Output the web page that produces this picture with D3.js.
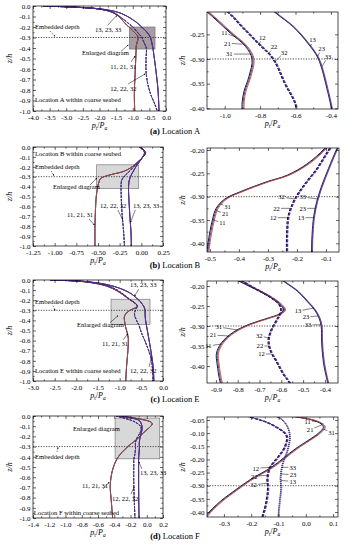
<!DOCTYPE html>
<html>
<head>
<meta charset="utf-8">
<script src="https://cdn.jsdelivr.net/npm/d3@7"></script>
<style>
body{margin:0;background:#fff}
svg{font-family:"Liberation Serif","Times New Roman",serif}
</style>
</head>
<body>
<svg id="chart" width="348" height="550"></svg>
<script>
// curves are [p_t/P_a, z/h]; group 1 = 11,21,31  group 2 = 12,22,32  group 3 = 13,23,33
const A1 = [[-3.7,0],[-2.8,-0.01],[-2.1,-0.025],[-1.7,-0.05],[-1.45,-0.09],[-1.3,-0.14],[-1.17,-0.185],[-1.093,-0.205],[-0.97,-0.245],[-0.876,-0.275],[-0.84,-0.3],[-0.857,-0.335],[-0.885,-0.365],[-0.895,-0.385],[-0.897,-0.402],[-0.91,-0.5],[-0.93,-0.65],[-0.95,-0.8],[-0.95,-0.9],[-0.94,-1.0]];
const A2 = [[-3.7,0],[-2.7,-0.012],[-2.0,-0.03],[-1.6,-0.06],[-1.35,-0.11],[-1.15,-0.16],[-0.98,-0.205],[-0.9,-0.235],[-0.81,-0.268],[-0.725,-0.3],[-0.66,-0.349],[-0.593,-0.4],[-0.6,-0.5],[-0.6,-0.62],[-0.55,-0.74],[-0.45,-0.85],[-0.33,-0.94],[-0.27,-1.0]];
const A3 = [[-3.7,0],[-2.5,-0.015],[-1.8,-0.035],[-1.35,-0.07],[-1.05,-0.12],[-0.85,-0.165],[-0.716,-0.205],[-0.61,-0.235],[-0.528,-0.268],[-0.475,-0.295],[-0.452,-0.316],[-0.42,-0.36],[-0.395,-0.4],[-0.35,-0.5],[-0.29,-0.65],[-0.24,-0.8],[-0.21,-1.0]];

const B1 = [[-0.02,0],[0.03,-0.03],[0.05,-0.06],[0.02,-0.1],[-0.04,-0.15],[-0.1,-0.196],[-0.16,-0.229],[-0.23,-0.254],[-0.3,-0.268],[-0.39,-0.289],[-0.445,-0.305],[-0.475,-0.325],[-0.488,-0.35],[-0.498,-0.38],[-0.507,-0.418],[-0.52,-0.5],[-0.53,-0.65],[-0.535,-0.8],[-0.535,-1.0]];
const B2 = [[-0.02,0],[0.03,-0.035],[0.04,-0.065],[0.01,-0.11],[-0.04,-0.16],[-0.085,-0.196],[-0.13,-0.24],[-0.18,-0.28],[-0.21,-0.31],[-0.228,-0.34],[-0.233,-0.37],[-0.234,-0.42],[-0.23,-0.55],[-0.22,-0.7],[-0.205,-0.85],[-0.195,-1.0]];
const B3 = [[-0.02,0],[0.03,-0.04],[0.035,-0.07],[0.0,-0.12],[-0.035,-0.165],[-0.06,-0.196],[-0.09,-0.24],[-0.115,-0.28],[-0.13,-0.31],[-0.14,-0.34],[-0.145,-0.37],[-0.148,-0.42],[-0.142,-0.55],[-0.132,-0.7],[-0.12,-0.85],[-0.115,-1.0]];

const C1 = [[-2.6,0],[-2.0,-0.01],[-1.6,-0.03],[-1.3,-0.06],[-1.05,-0.11],[-0.88,-0.16],[-0.79,-0.188],[-0.7,-0.212],[-0.63,-0.234],[-0.595,-0.25],[-0.585,-0.26],[-0.605,-0.27],[-0.667,-0.282],[-0.744,-0.296],[-0.82,-0.317],[-0.87,-0.342],[-0.893,-0.368],[-0.89,-0.395],[-0.875,-0.443],[-0.84,-0.5],[-0.8,-0.58],[-0.81,-0.7],[-0.84,-0.85],[-0.86,-1.0]];
const C2 = [[-2.6,0],[-1.9,-0.012],[-1.5,-0.035],[-1.2,-0.07],[-0.98,-0.12],[-0.83,-0.17],[-0.74,-0.2],[-0.65,-0.228],[-0.61,-0.245],[-0.6,-0.262],[-0.62,-0.285],[-0.645,-0.31],[-0.658,-0.335],[-0.65,-0.36],[-0.62,-0.39],[-0.59,-0.42],[-0.56,-0.443],[-0.5,-0.52],[-0.42,-0.6],[-0.33,-0.7],[-0.27,-0.78],[-0.24,-0.9],[-0.23,-1.0]];
const C3 = [[-2.6,0],[-1.8,-0.015],[-1.3,-0.045],[-0.95,-0.09],[-0.72,-0.14],[-0.583,-0.19],[-0.52,-0.215],[-0.477,-0.24],[-0.445,-0.26],[-0.425,-0.28],[-0.415,-0.3],[-0.413,-0.34],[-0.405,-0.39],[-0.385,-0.443],[-0.34,-0.55],[-0.28,-0.7],[-0.23,-0.85],[-0.21,-1.0]];

const D1 = [[-0.3,0],[-0.15,-0.02],[-0.035,-0.038],[0.026,-0.05],[0.06,-0.065],[0.068,-0.078],[0.05,-0.1],[-0.035,-0.16],[-0.12,-0.228],[-0.2,-0.277],[-0.267,-0.326],[-0.31,-0.36],[-0.365,-0.418],[-0.41,-0.5],[-0.44,-0.6],[-0.45,-0.7],[-0.44,-0.8],[-0.43,-0.9],[-0.42,-1.0]];
const D2 = [[-0.38,0],[-0.2,-0.04],[-0.12,-0.07],[-0.07,-0.11],[-0.075,-0.15],[-0.1,-0.19],[-0.13,-0.23],[-0.14,-0.27],[-0.138,-0.31],[-0.142,-0.35],[-0.15,-0.39],[-0.158,-0.418],[-0.16,-0.5],[-0.16,-0.65],[-0.155,-0.8],[-0.15,-0.9],[-0.145,-1.0]];
const D3 = [[-0.35,0],[-0.1,-0.04],[-0.07,-0.07],[-0.058,-0.11],[-0.065,-0.16],[-0.085,-0.22],[-0.092,-0.27],[-0.09,-0.31],[-0.095,-0.36],[-0.1,-0.418],[-0.1,-0.55],[-0.1,-0.7],[-0.098,-0.85],[-0.095,-1.0]];

// tick labels
const zFull = [0,-0.1,-0.2,-0.3,-0.4,-0.5,-0.6,-0.7,-0.8,-0.9,-1.0];
const zZoom = [-0.2,-0.25,-0.3,-0.35,-0.4];
const zZoomD = [-0.05,-0.1,-0.15,-0.2,-0.25,-0.3,-0.35,-0.4];
const xA = [-4,-3.5,-3,-2.5,-2,-1.5,-1,-0.5,0];
const xAz = [-1.0,-0.8,-0.6,-0.4];
const xB = [-1.25,-1,-0.75,-0.5,-0.25,0,0.25];
const xBz = [-0.5,-0.4,-0.3,-0.2,-0.1];
const xC = [-3,-2.5,-2,-1.5,-1,-0.5,0];
const xCz = [-0.9,-0.8,-0.7,-0.6,-0.5,-0.4];
const xD = [-1.4,-1.2,-1,-0.8,-0.6,-0.4,-0.2,0,0.2];
const xDz = [-0.3,-0.2,-0.1,0,0.1];

const letters = ["(a)","(b)","(c)","(d)"];
const places = ["Location A","Location B","Location E","Location F"];
const groupNames = ["11, 21, 31","12, 22, 32","13, 23, 33"];
const embedDepth = -0.3;

const svg = d3.select("#chart");
const defs = svg.append("defs");
defs.append("marker").attr("id","ah").attr("viewBox","0 0 6 6")
  .attr("refX",5.5).attr("refY",3).attr("markerWidth",3.5).attr("markerHeight",3.5)
  .attr("orient","auto")
  .append("path").attr("d","M0,0L6,3L0,6Z").attr("fill","#000");

const styles = [
  {w:0.9, dash:null, colors:["#000","#3030c8","#c8501e"], off:[-1,0,1]},
  {w:1.1, dash:"3,1.5", colors:["#000","#2a2aa0","#5a2a90"], off:[-0.6,0,0.6]},
  {w:0.8, dash:null, colors:["#000","#2a2aa0","#6a3090"], off:[-0.5,0,0.5]}
];

const panels = [
 {id:"AL", l:33,r:166,t:6,b:111, xd:[-4,0], yd:[-1,0], xt:xA, yt:zFull, xf:".1f", yf:".1f",
  groups:[A1,A2,A3], rect:[-1.1,-0.33,-0.41,-0.2], rectFill:"#8f8489", rectOp:0.8,
  notes:[
   {t:"Embedded depth", at:[-3.94,-0.2], arr:[[-3.49,-0.238],[-3.34,-0.29]], dash:true},
   {t:groupNames[2], at:[-2.135,-0.229], arr:[[-1.76,-0.185],[-1.48,-0.09]]},
   {t:"Enlarged diagram", at:[-2.53,-0.448], arr:[[-1.35,-0.43],[-1.13,-0.37]]},
   {t:groupNames[0], at:[-1.68,-0.58], arr:[[-1.05,-0.533],[-0.93,-0.476]]},
   {t:groupNames[1], at:[-1.68,-0.79], arr:[[-1.14,-0.743],[-0.62,-0.645]]},
   {t:places[0]+" within coarse seabed", at:[-3.94,-0.895]}
  ]},
 {id:"AR", l:207,r:338,t:12,b:109, xd:[-1.1,-0.36], yd:[-0.4014,-0.2047], xt:xAz, yt:zZoom.slice(1), xf:".1f", yf:".2f",
  groups:[A1,A2,A3], zoom:true,
  labels:[
   {t:"11", at:[-0.94,-0.255], dx:-11, dy:-4},{t:"21", at:[-0.9,-0.27], dx:-15, dy:-1},{t:"31", at:[-0.855,-0.29], dx:-21, dy:0},
   {t:"12", at:[-0.805,-0.27], dx:3, dy:-7},{t:"22", at:[-0.755,-0.29], dx:6, dy:-7},{t:"32", at:[-0.715,-0.305], dx:9, dy:-9},
   {t:"13", at:[-0.515,-0.275], dx:2, dy:-7},{t:"23", at:[-0.475,-0.295], dx:4, dy:-8},{t:"33", at:[-0.45,-0.315], dx:6, dy:-10}
  ]},
 {id:"BL", l:33,r:163,t:147,b:246, xd:[-1.25,0.25], yd:[-1,0], xt:xB, yt:zFull, xf:".2f", yf:".1f",
  groups:[B1,B2,B3], rect:[-0.515,-0.03,-0.42,-0.18], rectFill:"#d4d4d4", rectOp:0.9,
  notes:[
   {t:places[1]+" within coarse seabed", at:[-1.227,-0.07]},
   {t:"Embedded depth", at:[-1.227,-0.202], arr:[[-1.04,-0.242],[-1.008,-0.29]], dash:true},
   {t:"Enlarged diagram", at:[-1.02,-0.404], arr:[[-0.592,-0.384],[-0.512,-0.313]]},
   {t:groupNames[0], at:[-0.858,-0.687], arr:[[-0.604,-0.727],[-0.54,-0.788]]},
   {t:groupNames[1], at:[-0.477,-0.596], arr:[[-0.27,-0.636],[-0.215,-0.737]]},
   {t:groupNames[2], at:[-0.096,-0.596], arr:[[-0.07,-0.636],[-0.125,-0.76]]}
  ]},
 {id:"BR", l:207,r:339,t:148,b:252, xd:[-0.51,-0.055], yd:[-0.4186,-0.1957], xt:xBz, yt:zZoom, xf:".1f", yf:".2f",
  groups:[B1,B2,B3], zoom:true,
  labels:[
   {t:"31", at:[-0.467,-0.315], dx:8, dy:3},{t:"21", at:[-0.478,-0.33], dx:9, dy:3},{t:"11", at:[-0.488,-0.35], dx:9, dy:3},
   {t:"32", at:[-0.208,-0.305], dx:-13, dy:-2},{t:"22", at:[-0.222,-0.325], dx:-14, dy:0},{t:"12", at:[-0.23,-0.345], dx:-15, dy:0},
   {t:"33", at:[-0.128,-0.305], dx:-15, dy:-2},{t:"23", at:[-0.135,-0.325], dx:-13, dy:0},{t:"13", at:[-0.141,-0.345], dx:-13, dy:0}
  ]},
 {id:"CL", l:33,r:163,t:280,b:381, xd:[-3,0], yd:[-1,0], xt:xC, yt:zFull, xf:".1f", yf:".1f",
  groups:[C1,C2,C3], rect:[-1.2,-0.3,-0.44,-0.19], rectFill:"#d4d4d4", rectOp:0.9,
  notes:[
   {t:groupNames[2], at:[-0.76,-0.045], arr:[[-0.56,-0.09],[-0.66,-0.16]]},
   {t:"Embedded depth", at:[-2.954,-0.214], arr:[[-2.54,-0.254],[-2.49,-0.303]], dash:true},
   {t:"Enlarged diagram", at:[-1.985,-0.443], arr:[[-1.223,-0.423],[-1.04,-0.353]]},
   {t:groupNames[0], at:[-1.41,-0.632], arr:[[-0.92,-0.592],[-0.81,-0.532]]},
   {t:groupNames[1], at:[-0.76,-0.9], arr:[[-0.32,-0.86],[-0.27,-0.77]]},
   {t:places[2]+" within coarse seabed", at:[-2.954,-0.9]}
  ]},
 {id:"CR", l:207,r:338,t:281,b:383, xd:[-0.941,-0.34], yd:[-0.4425,-0.1875], xt:xCz, yt:zZoom, xf:".1f", yf:".2f",
  groups:[C1,C2,C3], zoom:true,
  labels:[
   {t:"31", at:[-0.8,-0.31], dx:-19, dy:-3},{t:"21", at:[-0.84,-0.325], dx:-16, dy:-1},{t:"11", at:[-0.875,-0.345], dx:-13, dy:2},
   {t:"32", at:[-0.655,-0.33], dx:-10, dy:-2},{t:"22", at:[-0.657,-0.35], dx:-9, dy:0},{t:"12", at:[-0.645,-0.37], dx:-10, dy:0},
   {t:"13", at:[-0.45,-0.255], dx:-16, dy:3},{t:"23", at:[-0.432,-0.275], dx:-12, dy:1},{t:"33", at:[-0.418,-0.297], dx:-13, dy:0}
  ]},
 {id:"DL", l:33,r:163,t:416,b:518, xd:[-1.4,0.2], yd:[-1,0], xt:xD, yt:zFull, xf:".1f", yf:".1f",
  groups:[D1,D2,D3], rect:[-0.39,0.16,-0.42,-0.02], rectFill:"#d4d4d4", rectOp:0.9,
  notes:[
   {t:"Enlarged diagram", at:[-0.908,-0.127]},
   {t:"Embedded depth", at:[-1.375,-0.402], arr:[[-1.105,-0.353],[-1.092,-0.304]], dash:true},
   {t:groupNames[2], at:[-0.083,-0.559], arr:[[-0.06,-0.52],[-0.097,-0.45]]},
   {t:groupNames[0], at:[-0.797,-0.686], arr:[[-0.538,-0.716],[-0.462,-0.647]]},
   {t:groupNames[1], at:[-0.428,-0.814], arr:[[-0.194,-0.765],[-0.155,-0.696]]},
   {t:places[3]+" within coarse seabed", at:[-1.39,-0.948]}
  ]},
 {id:"DR", l:207,r:338,t:417,b:517, xd:[-0.362,0.118], yd:[-0.419,-0.0386], xt:xDz, yt:zZoomD, xf:".1f", yf:".2f",
  groups:[D1,D2,D3], zoom:true, dot3:true,
  labels:[
   {t:"11", at:[0.04,-0.055], dx:-9, dy:0},{t:"21", at:[0.06,-0.068], dx:-12, dy:5},{t:"31", at:[0.065,-0.085], dx:8, dy:3},
   {t:"12", at:[-0.128,-0.23], dx:-15, dy:1},{t:"22", at:[-0.138,-0.26], dx:-14, dy:1},{t:"32", at:[-0.14,-0.29], dx:-14, dy:2},
   {t:"33", at:[-0.088,-0.23], dx:11, dy:0},{t:"23", at:[-0.091,-0.255], dx:12, dy:1},{t:"13", at:[-0.092,-0.28], dx:12, dy:1}
  ]}
];

const fmt = f => d => d3.format(f)(d).replace("\u2212","-");
const mids = a => d3.pairs(a).map(([p,q]) => (p+q)/2);

function drawPanel(p){
  const x = d3.scaleLinear().domain(p.xd).range([p.l,p.r]);
  const y = d3.scaleLinear().domain(p.yd).range([p.b,p.t]);
  const g = svg.append("g");
  defs.append("clipPath").attr("id","c"+p.id).append("rect")
    .attr("x",p.l).attr("y",p.t).attr("width",p.r-p.l).attr("height",p.b-p.t);
  const plot = g.append("g").attr("clip-path",`url(#c${p.id})`);

  if(p.rect){
    plot.append("rect")
      .attr("x",x(p.rect[0])).attr("y",y(p.rect[3]))
      .attr("width",x(p.rect[1])-x(p.rect[0])).attr("height",y(p.rect[2])-y(p.rect[3]))
      .attr("fill",p.rectFill).attr("fill-opacity",p.rectOp)
      .attr("stroke","#6a6a6a").attr("stroke-width",0.6);
  }
  plot.append("line")
    .attr("x1",p.l).attr("x2",p.r).attr("y1",y(embedDepth)).attr("y2",y(embedDepth))
    .attr("stroke","#000").attr("stroke-width",0.7).attr("stroke-dasharray","1.2,1.4");

  const line = d3.line().x(d=>x(d[0])).y(d=>y(d[1])).curve(d3.curveCatmullRom.alpha(0.5));
  p.groups.forEach((data,gi)=>{
    const st = styles[gi];
    let dash = st.dash;
    if(gi==1 && !p.zoom) dash = "2.5,1";
    if(gi==2 && p.dot3) dash = "1.2,0.8";
    st.colors.forEach((c,mi)=>{
      plot.append("path").attr("d",line(data))
        .attr("fill","none").attr("stroke",c)
        .attr("stroke-width", p.zoom ? st.w : 0.8)
        .attr("stroke-dasharray",dash)
        .attr("transform",`translate(${p.zoom ? st.off[mi] : 0},0)`);
    });
  });

  // axes, ticks inside
  const bx = g.append("g").attr("transform",`translate(0,${p.b})`)
    .call(d3.axisBottom(x).tickValues(p.xt).tickFormat(fmt(p.xf)).tickSize(-3).tickPadding(4));
  const bm = g.append("g").attr("transform",`translate(0,${p.b})`)
    .call(d3.axisBottom(x).tickValues(mids(p.xt)).tickFormat("").tickSize(-1.6));
  const tx = g.append("g").attr("transform",`translate(0,${p.t})`)
    .call(d3.axisTop(x).tickValues(p.xt).tickFormat("").tickSize(-3));
  const tm = g.append("g").attr("transform",`translate(0,${p.t})`)
    .call(d3.axisTop(x).tickValues(mids(p.xt)).tickFormat("").tickSize(-1.6));
  const lx = g.append("g").attr("transform",`translate(${p.l},0)`)
    .call(d3.axisLeft(y).tickValues(p.yt).tickFormat(fmt(p.yf)).tickSize(-3).tickPadding(2.5));
  const lm = g.append("g").attr("transform",`translate(${p.l},0)`)
    .call(d3.axisLeft(y).tickValues(mids(p.yt)).tickFormat("").tickSize(-1.6));
  const rx = g.append("g").attr("transform",`translate(${p.r},0)`)
    .call(d3.axisRight(y).tickValues(p.yt).tickFormat("").tickSize(-3));
  const rm = g.append("g").attr("transform",`translate(${p.r},0)`)
    .call(d3.axisRight(y).tickValues(mids(p.yt)).tickFormat("").tickSize(-1.6));
  [bx,bm,tx,tm,lx,lm,rx,rm].forEach(a=>{
    a.select(".domain").remove();
    a.attr("font-size",7).attr("font-family",null);
    a.selectAll("line").attr("stroke-width",0.6);
    a.selectAll("text").attr("fill","#000");
  });

  g.append("rect").attr("x",p.l).attr("y",p.t).attr("width",p.r-p.l).attr("height",p.b-p.t)
    .attr("fill","none").attr("stroke","#000").attr("stroke-width",0.7);

  // axis titles
  const xt = g.append("text").attr("x",(p.l+p.r)/2).attr("y",p.b+17)
    .attr("text-anchor","middle").attr("font-size",8);
  xt.append("tspan").attr("font-style","italic").text("p");
  xt.append("tspan").attr("font-size",5.5).attr("dy",1.5).text("t");
  xt.append("tspan").attr("dy",-1.5).text("/");
  xt.append("tspan").attr("font-style","italic").text("P");
  xt.append("tspan").attr("font-size",5.5).attr("dy",1.5).attr("font-style","italic").text("a");

  g.append("text")
    .attr("transform",`translate(${p.l-(p.zoom?22:21)},${(p.t+p.b)/2}) rotate(-90)`)
    .attr("text-anchor","middle").attr("font-size",8).attr("font-style","italic").text("z/h");

  // left panel annotations
  (p.notes||[]).forEach(n=>{
    g.append("text").attr("x",x(n.at[0])).attr("y",y(n.at[1])).attr("dy","0.35em")
      .attr("font-size",6.6).text(n.t);
    if(n.arr){
      g.append("line")
        .attr("x1",x(n.arr[0][0])).attr("y1",y(n.arr[0][1]))
        .attr("x2",x(n.arr[1][0])).attr("y2",y(n.arr[1][1]))
        .attr("stroke","#000").attr("stroke-width",0.5)
        .attr("stroke-dasharray",n.dash?"1.5,1":null)
        .attr("marker-end","url(#ah)");
    }
  });

  // zoom panel series labels
  (p.labels||[]).forEach(n=>{
    const px = x(n.at[0]), py = y(n.at[1]);
    const L = Math.hypot(n.dx,n.dy), k = Math.max(0,(L-4.5)/L);
    g.append("line").attr("x1",px).attr("y1",py).attr("x2",px+k*n.dx).attr("y2",py+k*n.dy)
      .attr("stroke","#000").attr("stroke-width",0.5);
    g.append("text").attr("x",px+n.dx).attr("y",py+n.dy).attr("dy","0.35em")
      .attr("text-anchor","middle").attr("font-size",6.6).text(n.t);
  });
}

panels.forEach(drawPanel);

const capY = [134, 268, 402, 539];
capY.forEach((cy,i)=>{
  const t = svg.append("text").attr("x",175).attr("y",cy).attr("text-anchor","middle").attr("font-size",8.5);
  t.append("tspan").attr("font-weight","bold").text(letters[i]);
  t.append("tspan").text(" "+places[i]);
});
</script>
</body>
</html>
